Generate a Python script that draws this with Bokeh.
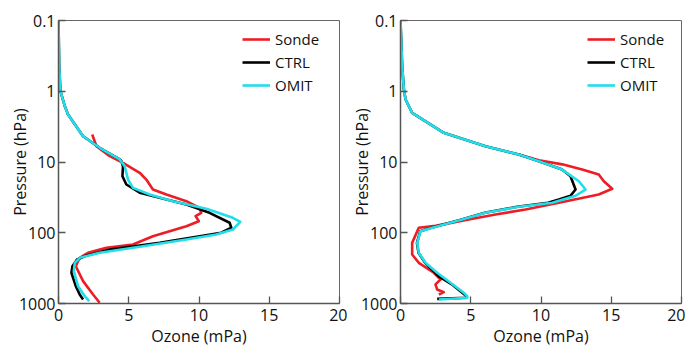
from bokeh.plotting import figure
from bokeh.layouts import row
from bokeh.models import Range1d, FixedTicker, Legend, LegendItem
from bokeh.embed import file_html
from bokeh.resources import INLINE

# ---------------- data ----------------
series_names = ["Sonde", "CTRL", "OMIT"]
series_colors = ["#EE1D25", "#000000", "#22DDEA"]

x_ticks = [0, 5, 10, 15, 20]
y_ticks = [0.1, 1, 10, 100, 1000]
y_tick_labels = ["0.1", "1", "10", "100", "1000"]

# Left panel
left_sonde_p = [4.08, 5.98, 8.28, 10.3, 14.2, 17.7, 24.5, 28.8, 35.8, 44.4, 52.3, 58.3, 68.7,
                80.8, 95, 112, 146.6, 163, 192, 226, 297, 483, 746, 977]
left_sonde_o = [2.4, 2.70, 3.65, 4.59, 5.78, 6.25, 6.72, 7.68, 9.10, 10.04, 10.16, 9.76, 9.99,
                9.10, 7.91, 6.72, 5.30, 3.41, 2.10, 1.51, 1.23, 1.75, 2.46, 2.93]

left_ctrl_p = [0.1, 0.44, 1.0, 1.63, 2.13, 4.32, 6.3, 9.2, 9.75, 11.5, 15.9, 20.8, 27.2, 32.1,
               39.9, 52.3, 72.3, 85, 100, 112, 139, 172.6, 210, 239, 297, 368, 569, 746, 878]
left_ctrl_o = [0.0, 0.05, 0.14, 0.45, 0.68, 1.75, 2.93, 4.36, 4.48, 4.59, 4.55, 4.83, 5.78, 7.2,
               9.1, 10.75, 12.18, 12.3, 11.58, 10.04, 7.2, 3.65, 1.99, 1.32, 0.99, 0.92, 1.23, 1.51, 1.75]

left_omit_p = [0.1, 0.44, 1.0, 1.63, 2.13, 4.32, 6.3, 9.2, 11.5, 17.7, 23.2, 28.8, 35.8, 45.8,
               61.5, 70, 90, 106, 124.5, 155, 192, 226, 266, 349, 569, 789, 927]
left_omit_o = [0.0, 0.05, 0.14, 0.45, 0.68, 1.75, 2.93, 4.36, 4.71, 4.95, 5.3, 6.49, 8.15, 10.52,
               12.41, 12.94, 12.41, 11.23, 9.1, 6.01, 2.93, 1.51, 1.16, 1.09, 1.39, 1.87, 2.18]

# Right panel
right_sonde_p = [7.83, 9.43, 10.8, 12.8, 15.0, 18.7, 23.9, 28.8, 31.4, 37.7, 46.9, 55.2, 65,
                 80, 85, 95.5, 139, 203, 266, 368, 458, 536, 634, 692, 746]
right_sonde_o = [8.42, 9.85, 11.51, 12.93, 14.11, 14.47, 15.07, 14.11, 13.17, 11.27, 8.9, 6.76, 4.86,
                 2.49, 1.30, 1.19, 0.83, 0.83, 1.30, 2.37, 2.85, 2.49, 2.61, 3.08, 2.73]

right_ctrl_p = [0.1, 0.44, 0.94, 1.31, 2.02, 3.87, 5.98, 7.83, 9.75, 12.8, 15.9, 24.5, 30, 34,
                37.7, 43, 52.3, 65, 85, 95.5, 139, 192, 266, 411, 536, 789, 830, 859]
right_ctrl_o = [0.0, 0.12, 0.24, 0.36, 0.83, 3.08, 6.05, 8.42, 9.85, 11.5, 12.1, 12.46, 12.1, 11.27,
                10.5, 8.3, 6.0, 4.35, 2.2, 1.4, 1.17, 1.28, 1.75, 2.7, 3.65, 4.7, 4.7, 2.61]

right_omit_p = [0.1, 0.44, 0.94, 1.31, 2.02, 3.87, 5.98, 7.83, 9.75, 12.8, 18.7, 24.5, 30, 37.7,
                43, 52.3, 65, 85, 95.5, 139, 192, 266, 368, 510, 706, 789, 830, 878]
right_omit_o = [0.0, 0.12, 0.24, 0.36, 0.83, 3.08, 6.05, 8.42, 9.85, 11.5, 12.7, 13.17, 12.46, 10.8,
                8.42, 6.05, 4.39, 2.26, 1.42, 1.19, 1.30, 1.78, 2.61, 3.56, 4.5, 4.75, 4.75, 2.73]

FONT = "Open Sans"


def make_panel(series, border_left, border_right, legend_x):
    p = figure(output_backend="svg", toolbar_location=None,
               frame_width=281, frame_height=283,
               min_border_left=border_left, min_border_right=border_right,
               min_border_top=20, min_border_bottom=40,
               x_range=Range1d(0, 20), y_range=Range1d(1000, 0.1),
               y_axis_type="log")
    p.grid.visible = False
    p.outline_line_color = "#666666"
    p.outline_line_width = 1
    p.background_fill_color = "white"
    p.border_fill_color = "white"

    renderers = []
    for (pp, oo), color in zip(series, series_colors):
        r = p.line(oo, pp, line_color=color, line_width=2.6, line_join="round")
        renderers.append(r)

    for ax in (p.xaxis[0], p.yaxis[0]):
        ax.axis_line_color = "#555555"
        ax.axis_line_width = 1.5
        ax.major_tick_line_color = "#555555"
        ax.major_tick_line_width = 1.3
        ax.major_tick_in = 7
        ax.major_tick_out = 0
        ax.minor_tick_in = 0
        ax.minor_tick_out = 0
        ax.major_label_text_font = FONT
        ax.major_label_text_font_size = "16px"
        ax.major_label_text_color = "#111111"
        ax.axis_label_text_font = FONT
        ax.axis_label_text_font_size = "16px"
        ax.axis_label_text_font_style = "normal"
        ax.axis_label_text_color = "#111111"

    p.xaxis.ticker = FixedTicker(ticks=x_ticks)
    p.xaxis.axis_label = "Ozone (mPa)"
    p.xaxis.major_label_standoff = 5
    p.xaxis.axis_label_standoff = 1

    p.yaxis.ticker = FixedTicker(ticks=y_ticks)
    p.yaxis.major_label_overrides = {t: s for t, s in zip(y_ticks, y_tick_labels)}
    p.yaxis.major_label_standoff = 3
    p.yaxis.axis_label = "Pressure (hPa)"
    p.yaxis.axis_label_standoff = -15

    legend = Legend(items=[LegendItem(label=n, renderers=[r]) for n, r in zip(series_names, renderers)],
                    location=(legend_x, 208), border_line_color=None,
                    background_fill_alpha=0, padding=0, margin=0, spacing=3,
                    glyph_width=28, glyph_height=20, label_standoff=5,
                    label_text_font=FONT, label_text_font_size="15px",
                    label_text_color="#111111")
    p.add_layout(legend)
    return p


p1 = make_panel([(left_sonde_p, left_sonde_o), (left_ctrl_p, left_ctrl_o), (left_omit_p, left_omit_o)],
                58, 8, 184)
p2 = make_panel([(right_sonde_p, right_sonde_o), (right_ctrl_p, right_ctrl_o), (right_omit_p, right_omit_o)],
                48, 4, 187)

layout = row(p1, p2)
open("out.html", "w").write(file_html(layout, INLINE))
